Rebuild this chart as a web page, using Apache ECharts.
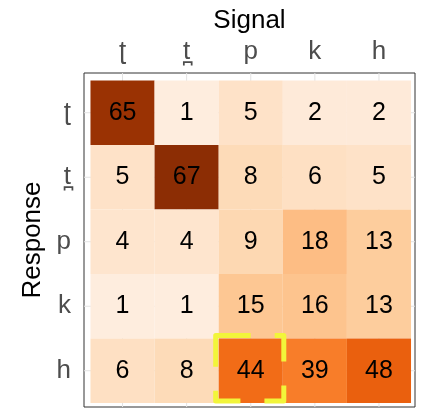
<!DOCTYPE html>
<html>
<head>
<meta charset="utf-8">
<script src="https://cdn.jsdelivr.net/npm/echarts@6/dist/echarts.min.js"></script>
<style>
  html, body { margin: 0; padding: 0; background: #fff; }
  #chart { width: 423px; height: 412px; }
</style>
</head>
<body>
<div id="chart"></div>
<script>
// Consonant confusion matrix: columns = signal, rows = response
const signalLabels = ['\u0288', 't\u032A', 'p', 'k', 'h'];
const responseLabels = ['\u0288', 't\u032A', 'p', 'k', 'h'];

// counts[row][col]  (row = response, col = signal)
const rowRetroflexT = [65, 1, 5, 2, 2];
const rowDentalT    = [5, 67, 8, 6, 5];
const rowP          = [4, 4, 9, 18, 13];
const rowK          = [1, 1, 15, 16, 13];
const rowH          = [6, 8, 44, 39, 48];
const counts = [rowRetroflexT, rowDentalT, rowP, rowK, rowH];

// highlighted cell: [signal index, response index]
const highlightCell = [[2, 4]];

const tickIdx = [0, 1, 2, 3, 4];

const cells = [];
counts.forEach((row, r) => row.forEach((v, c) => cells.push([c, r, v])));

const FONT = "'Liberation Sans', Arial, 'DejaVu Sans', sans-serif";
const oranges = ['#feedde', '#fdd0a2', '#fdae6b', '#fd8d3c', '#f16913', '#d94801', '#8c2d04'];

const chart = echarts.init(document.getElementById('chart'), null, { renderer: 'canvas' });

chart.setOption({
  backgroundColor: '#ffffff',
  animation: false,
  textStyle: { fontFamily: FONT },
  grid: {
    left: 84, top: 73, width: 331, height: 334,
    show: true, borderColor: '#333333', borderWidth: 1, backgroundColor: '#ffffff'
  },
  xAxis: {
    type: 'value', position: 'top',
    min: -0.601, max: 4.562,
    name: 'Signal', nameLocation: 'middle', nameGap: 39,
    nameTextStyle: { fontSize: 26, color: '#000', fontFamily: FONT },
    axisLine: { show: false },
    splitLine: { show: false },
    axisTick: { show: true, customValues: tickIdx, length: 4, lineStyle: { color: '#888' } },
    axisLabel: {
      customValues: tickIdx, margin: 8, fontSize: 26, color: '#4d4d4d', fontFamily: FONT,
      formatter: v => signalLabels[Math.round(v)]
    }
  },
  yAxis: {
    type: 'value', inverse: true,
    min: -0.616, max: 4.562,
    name: 'Response', nameLocation: 'middle', nameGap: 36, nameRotate: 90,
    nameTextStyle: { fontSize: 26, color: '#000', fontFamily: FONT },
    axisLine: { show: false },
    splitLine: { show: false },
    axisTick: { show: true, customValues: tickIdx, length: 4, lineStyle: { color: '#888' } },
    axisLabel: {
      customValues: tickIdx, margin: 13, fontSize: 26, color: '#4d4d4d', fontFamily: FONT,
      formatter: v => responseLabels[Math.round(v)]
    }
  },
  visualMap: {
    show: false, type: 'continuous', seriesIndex: 1, dimension: 2,
    min: 1, max: 67, inRange: { color: oranges }
  },
  series: [
    {
      // light grid lines through category centres
      type: 'custom', z: 1, silent: true,
      data: tickIdx.map(i => [i]),
      renderItem(params, api) {
        const i = api.value(0);
        const cs = params.coordSys;
        const px = api.coord([i, 0])[0];
        const py = api.coord([0, i])[1];
        const ls = { stroke: '#e3e3e3', lineWidth: 1 };
        return {
          type: 'group',
          children: [
            { type: 'line', shape: { x1: px, y1: cs.y, x2: px, y2: cs.y + cs.height }, style: ls },
            { type: 'line', shape: { x1: cs.x, y1: py, x2: cs.x + cs.width, y2: py }, style: ls }
          ]
        };
      }
    },
    {
      // heatmap tiles with counts
      type: 'custom', z: 2, silent: true,
      data: cells,
      renderItem(params, api) {
        const c = api.value(0), r = api.value(1), v = api.value(2);
        const a = api.coord([c - 0.5, r - 0.5]);
        const b = api.coord([c + 0.5, r + 0.5]);
        const x = Math.min(a[0], b[0]), y = Math.min(a[1], b[1]);
        const w = Math.abs(b[0] - a[0]), h = Math.abs(b[1] - a[1]);
        return {
          type: 'group',
          children: [
            { type: 'rect', shape: { x, y, width: w, height: h }, style: { fill: api.visual('color') } },
            {
              type: 'text',
              style: {
                text: String(v), x: x + w / 2, y: y + h / 2,
                align: 'center', verticalAlign: 'middle',
                fill: '#000', font: '25px ' + FONT
              }
            }
          ]
        };
      }
    },
    {
      // dashed highlight around a selected cell
      type: 'custom', z: 3, silent: true,
      data: highlightCell,
      renderItem(params, api) {
        const c = api.value(0), r = api.value(1);
        const a = api.coord([c - 0.5, r - 0.5]);
        const b = api.coord([c + 0.5, r + 0.5]);
        const x = Math.min(a[0], b[0]), y = Math.min(a[1], b[1]);
        const w = Math.abs(b[0] - a[0]), h = Math.abs(b[1] - a[1]);
        return {
          type: 'rect',
          shape: { x: x - 3, y: y - 3, width: w + 4, height: h + 1 },
          style: {
            fill: null, stroke: '#f2f53a', lineWidth: 5,
            lineDash: [35, 24], lineJoin: 'round', lineCap: 'butt'
          }
        };
      }
    }
  ]
});
</script>
</body>
</html>
